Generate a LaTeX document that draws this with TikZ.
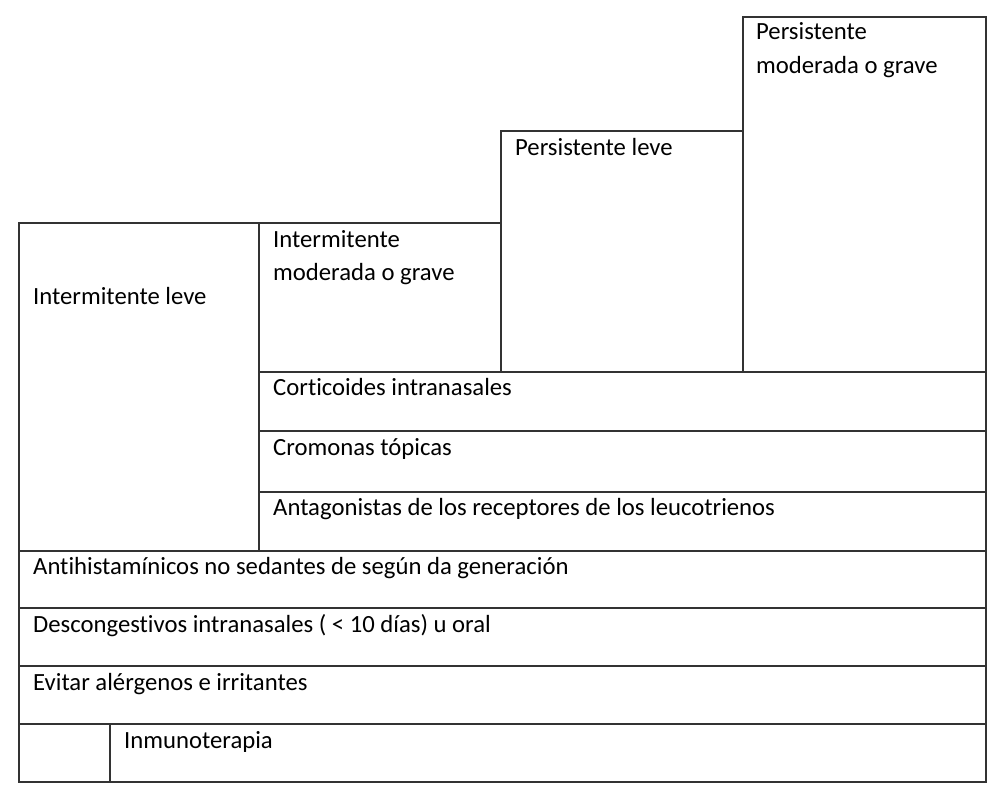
\documentclass[tikz,border=0pt]{standalone}
\usepackage{fontspec}
\setmainfont[Ligatures=NoCommon]{Carlito}
\begin{document}
\begin{tikzpicture}[x=1pt,y=-1pt,
  cellline/.style={draw=black!80, line width=1.1pt},
  txt/.style={anchor=base west, inner sep=0pt, font=\fontsize{24.7}{28}\selectfont, text=black}]
\useasboundingbox[fill=white] (0,0) rectangle (1000,792);
% cells
\draw[cellline] (19,223) rectangle (259,551);
\draw[cellline] (259,223) rectangle (501,372);
\draw[cellline] (501,131) rectangle (743,372);
\draw[cellline] (743,17) rectangle (986,372);
\draw[cellline] (259,372) rectangle (986,431);
\draw[cellline] (259,431) rectangle (986,492);
\draw[cellline] (259,492) rectangle (986,551);
\draw[cellline] (19,551) rectangle (986,608);
\draw[cellline] (19,608) rectangle (986,666);
\draw[cellline] (19,666) rectangle (986,724);
\draw[cellline] (19,724) rectangle (110,782);
\draw[cellline] (110,724) rectangle (986,782);
% texts
\node[txt] (il) at (33,304) {Intermitente leve};
\node[txt] (im1) at (273,247) {Intermitente};
\node[txt] (im2) at (273,280) {moderada o grave};
\node[txt] (pl) at (515,155) {Persistente leve};
\node[txt] (pm1) at (756,40) {Persistente};
\node[txt] (pm2) at (756,74) {moderada o grave};
\node[txt] (cort) at (273,395) {Corticoides intranasales};
\node[txt] (crom) at (273,455) {Cromonas tópicas};
\node[txt] (ant) at (273,515) {Antagonistas de los receptores de los leucotrienos};
\node[txt] (antih) at (33,574) {Antihistamínicos no sedantes de según da generación};
\node[txt] (desc) at (33,632) {Descongestivos intranasales ( < 10 días) u oral};
\node[txt] (evit) at (33,690) {Evitar alérgenos e irritantes};
\node[txt] (inmu) at (124,748) {Inmunoterapia};
\end{tikzpicture}
\end{document}
